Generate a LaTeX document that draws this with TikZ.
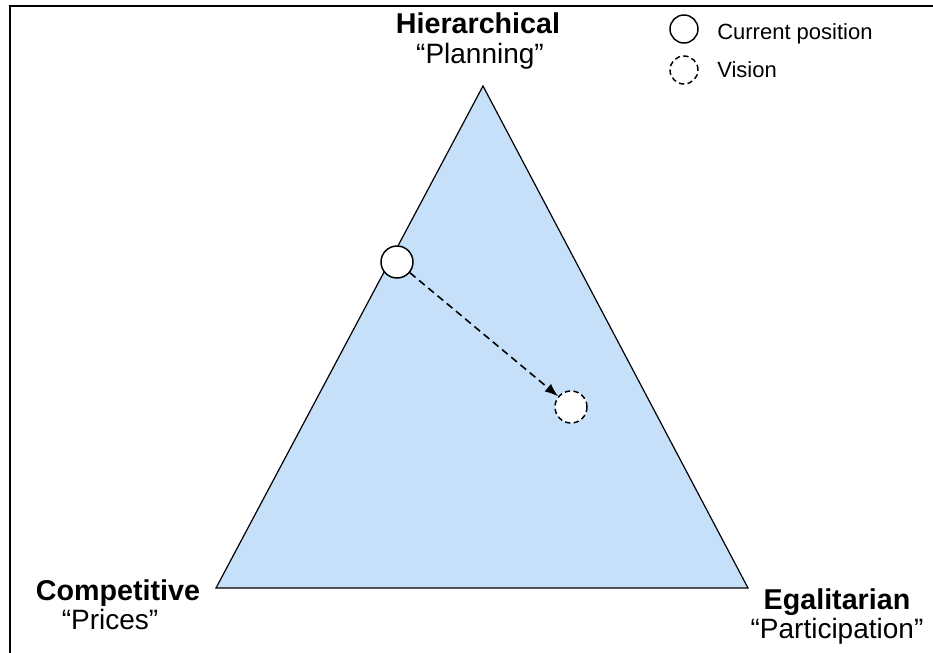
\documentclass[tikz,border=0pt]{standalone}
\usepackage{fontspec}
\setmainfont{Liberation Sans}
\usetikzlibrary{arrows.meta, positioning}
\definecolor{triblue}{RGB}{198, 224, 250}

\begin{document}
\begin{tikzpicture}[
    x=0.75pt, y=-0.75pt,
    title/.style={font=\fontsize{21.5}{24}\selectfont\bfseries, inner sep=0pt, anchor=base},
    quote/.style={font=\fontsize{21}{24}\selectfont, inner sep=0pt, anchor=base},
    legend/.style={font=\fontsize{16.5}{18}\selectfont, inner sep=0pt, anchor=base west},
    posmark/.style={circle, draw, fill=white, minimum size=32*0.75pt, inner sep=0pt, line width=1.1pt},
    vismark/.style={posmark, dash pattern=on 4pt off 2.5pt}
]
\useasboundingbox (0,0) rectangle (933,653);
\draw[line width=1.6pt] (10,700) -- (10,6) -- (980,6);

% triangle corners
\coordinate (top) at (483,86);
\coordinate (left) at (216,588);
\coordinate (right) at (748,588);
\draw[fill=triblue, line width=0.9pt] (top) -- (left) -- (right) -- cycle;

% corner labels
\node[title] (hier) at (478,33) {Hierarchical};
\node[quote] (plan) at (480,63) {“Planning”};
\node[title] (comp) at (118,600) {Competitive};
\node[quote] (pric) at (110,629) {“Prices”};
\node[title] (egal) at (837,609) {Egalitarian};
\node[quote] (part) at (837,638) {“Participation”};

% positions
\node[posmark] (cur) at (397,262) {};
\node[vismark] (vis) at (571,407) {};
\draw[-{Latex[length=10pt, width=7.5pt]}, dash pattern=on 5.5pt off 3.5pt, line width=1.2pt] (cur) -- (vis);

% legend
\node[posmark, minimum size=28*0.75pt] (lcur) at (684,29) {};
\node[legend] (tcur) at (717,39) {Current position};
\node[vismark, minimum size=28*0.75pt] (lvis) at (684,70) {};
\node[legend] (tvis) at (717,77) {Vision};
\end{tikzpicture}
\end{document}
